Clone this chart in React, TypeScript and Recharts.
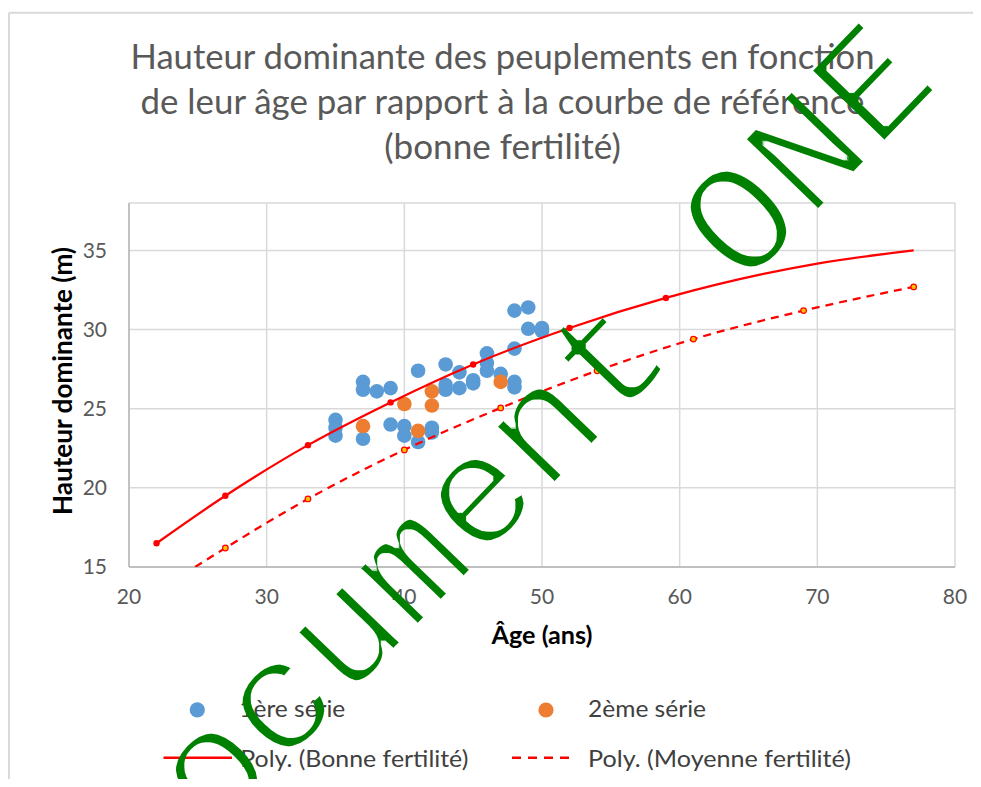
import React from 'react';
import { ComposedChart, Scatter, Line, XAxis, YAxis, CartesianGrid, Legend } from 'recharts';

// ---- data ----
const serie1Age = [35, 35, 35, 37, 37, 37, 38, 39, 39, 40, 40, 41, 41, 42, 42, 43, 43, 43, 44, 44, 45, 45, 46, 46, 46, 47, 48, 48, 48, 48, 49, 49, 50, 50];
const serie1Hauteur = [24.3, 23.8, 23.3, 26.7, 26.2, 23.1, 26.1, 26.3, 24.0, 23.9, 23.3, 27.4, 22.9, 23.8, 23.5, 27.8, 26.5, 26.2, 27.3, 26.3, 26.8, 26.6, 28.5, 27.9, 27.4, 27.2, 28.8, 26.7, 26.35, 31.2, 31.4, 30.05, 30.1, 29.9];

const serie2Age = [37, 40, 41, 42, 42, 47];
const serie2Hauteur = [23.9, 25.3, 23.6, 26.1, 25.2, 26.7];

const bonneAge = [22, 27, 33, 39, 45, 52, 59];
const bonneHauteur = [16.5, 19.5, 22.7, 25.4, 27.8, 30.1, 32.0];

const moyenneAge = [27, 33, 40, 47, 54, 61, 69, 77];
const moyenneHauteur = [16.2, 19.3, 22.4, 25.05, 27.4, 29.4, 31.2, 32.7];

// polynomial trend curves
const polyBonneAge = [22, 27, 33, 39, 45, 52, 59, 66, 70, 77];
const polyBonneHauteur = [16.5, 19.5, 22.7, 25.4, 27.8, 30.1, 32.0, 33.5, 34.17, 35.0];
const polyMoyenneAge = [24.8, 27, 33, 40, 47, 54, 61, 69, 77];
const polyMoyenneHauteur = [15.0, 16.2, 19.3, 22.4, 25.05, 27.4, 29.4, 31.2, 32.7];

const xTicks = [20, 30, 40, 50, 60, 70, 80];
const yTicks = [15, 20, 25, 30, 35];
const xDomain = [20, 80];
const yDomain = [15, 38];

const titleLines = [
  'Hauteur dominante des peuplements en fonction',
  'de leur âge par rapport à la courbe de référence',
  '(bonne fertilité)',
];
const xTitle = 'Âge (ans)';
const yTitle = 'Hauteur dominante (m)';
const legendNames = ['1ère série', '2ème série', 'Poly. (Bonne fertilité)', 'Poly. (Moyenne fertilité)'];
const watermark = 'Document ONE';

const zip = (xs: number[], ys: number[]) => xs.map((x, i) => ({ x, y: ys[i] }));

const W = 965;
const H = 771;
const BLUE = '#5B9BD5';
const ORANGE = '#ED7D31';
const RED = '#FF0000';
const GOLD = '#FFC000';
const FONT = 'Lato, "Open Sans", sans-serif';

const dotShape = (fill: string, r: number, stroke?: string) => (p: any) => (
  <circle cx={p.cx} cy={p.cy} r={r} fill={fill} stroke={stroke || 'none'} strokeWidth={stroke ? 1.2 : 0} />
);

const LegendContent = () => (
  <svg width={W} height={H} style={{ position: 'absolute', left: 0, top: 0 }}>
    <g fontFamily={FONT} fontSize={24} fill="#404040">
      <circle cx={189.3} cy={701.9} r={7.6} fill={BLUE} />
      <text x={231.3} y={709} textLength={106} lengthAdjust="spacingAndGlyphs">{legendNames[0]}</text>
      <circle cx={538} cy={702} r={7.6} fill={ORANGE} />
      <text x={580} y={709} textLength={118} lengthAdjust="spacingAndGlyphs">{legendNames[1]}</text>
      <line x1={155.5} x2={224} y1={749.7} y2={749.7} stroke={RED} strokeWidth={2.5} />
      <text x={232.3} y={759.3} textLength={228} lengthAdjust="spacingAndGlyphs">{legendNames[2]}</text>
      <line x1={504} x2={567} y1={749.7} y2={749.7} stroke={RED} strokeWidth={2.5} strokeDasharray="9 7" />
      <text x={580} y={759.3} textLength={263} lengthAdjust="spacingAndGlyphs">{legendNames[3]}</text>
    </g>
  </svg>
);

export default function App() {
  return (
    <div style={{ position: 'relative', width: W, height: H }}>
      <ComposedChart width={W} height={H} margin={{ top: 195, right: 18, bottom: 182, left: 0 }}>
        <CartesianGrid stroke="#D9D9D9" strokeWidth={1.5} />
        <XAxis
          type="number"
          dataKey="x"
          domain={xDomain}
          ticks={xTicks}
          interval={0}
          allowDataOverflow
          height={30}
          tickLine={false}
          tickMargin={16}
          axisLine={{ stroke: '#BFBFBF', strokeWidth: 1.8 }}
          tick={{ fill: '#595959', fontSize: 21, fontFamily: FONT }}
          label={(p: any) => {
            const vb = p.viewBox || { x: 121, y: 559, width: 826, height: 30 };
            return (
              <text x={vb.x + vb.width / 2} y={636} textAnchor="middle" fontFamily={FONT} fontWeight={700}
                fontSize={24} fill="#000000" textLength={101} lengthAdjust="spacingAndGlyphs">{xTitle}</text>
            );
          }}
        />
        <YAxis
          type="number"
          dataKey="y"
          domain={yDomain}
          ticks={yTicks}
          interval={0}
          allowDataOverflow
          width={121}
          tickLine={false}
          tickMargin={16}
          axisLine={{ stroke: '#BFBFBF', strokeWidth: 1.8 }}
          tick={{ fill: '#595959', fontSize: 21, fontFamily: FONT }}
          label={(p: any) => {
            const vb = p.viewBox || { x: 0, y: 195, width: 121, height: 364 };
            const cy = vb.y + vb.height / 2 - 4;
            return (
              <text transform={`translate(64.3, ${cy}) rotate(-90)`} x={0} y={0} textAnchor="middle"
                fontFamily={FONT} fontWeight={700} fontSize={26} fill="#000000"
                textLength={268} lengthAdjust="spacingAndGlyphs">{yTitle}</text>
            );
          }}
        />
        <Scatter name={legendNames[0]} data={zip(serie1Age, serie1Hauteur)} shape={dotShape(BLUE, 7.3)}
          isAnimationActive={false} zIndex={600} />
        <Scatter name={legendNames[1]} data={zip(serie2Age, serie2Hauteur)} shape={dotShape(ORANGE, 7.3)}
          isAnimationActive={false} zIndex={600} />
        <Line name={legendNames[2]} data={zip(polyBonneAge, polyBonneHauteur)} dataKey="y" type="monotone"
          stroke={RED} strokeWidth={2.25} dot={false} activeDot={false} isAnimationActive={false} zIndex={650} />
        <Line name={legendNames[3]} data={zip(polyMoyenneAge, polyMoyenneHauteur)} dataKey="y" type="monotone"
          stroke={RED} strokeWidth={2.25} strokeDasharray="8 6" dot={false} activeDot={false}
          isAnimationActive={false} zIndex={650} />
        <Scatter name="Bonne fertilité" data={zip(bonneAge, bonneHauteur)} shape={dotShape(RED, 3.2)}
          legendType="none" isAnimationActive={false} zIndex={700} />
        <Scatter name="Moyenne fertilité" data={zip(moyenneAge, moyenneHauteur)} shape={dotShape(GOLD, 2.8, RED)}
          legendType="none" isAnimationActive={false} zIndex={700} />
        <Legend verticalAlign="middle" align="center" layout="horizontal"
          wrapperStyle={{ top: 0, left: 0, width: W, height: H, pointerEvents: 'none' }}
          content={() => <LegendContent />} />
      </ComposedChart>
      <svg width={W} height={H} style={{ position: 'absolute', left: 0, top: 0, pointerEvents: 'none' }}>
        <defs>
          <filter id="wmThin" filterUnits="userSpaceOnUse" x={0} y={0} width={W} height={H}>
            <feMorphology operator="erode" radius={2} />
          </filter>
        </defs>
        <line x1={1} x2={W} y1={4.7} y2={4.7} stroke="#D9D9D9" strokeWidth={2} />
        <line x1={1} x2={1} y1={4.7} y2={H} stroke="#D9D9D9" strokeWidth={2} />
        <g fontFamily={FONT} fontSize={34} fill="#595959" textAnchor="middle">
          <text x={494.5} y={60.8} textLength={744} lengthAdjust="spacingAndGlyphs">{titleLines[0]}</text>
          <text x={494.5} y={105.8} textLength={724} lengthAdjust="spacingAndGlyphs">{titleLines[1]}</text>
          <text x={494.5} y={151.2} textLength={236.6} lengthAdjust="spacingAndGlyphs">{titleLines[2]}</text>
        </g>
        <g filter="url(#wmThin)">
          <text x={139.5} y={898.6} transform="rotate(-46 139.5 898.6)"
            fontFamily={'"Liberation Mono", "DejaVu Sans Mono", monospace'} fontSize={158.8}
            fill="#008000">{watermark}</text>
        </g>
      </svg>
    </div>
  );
}
